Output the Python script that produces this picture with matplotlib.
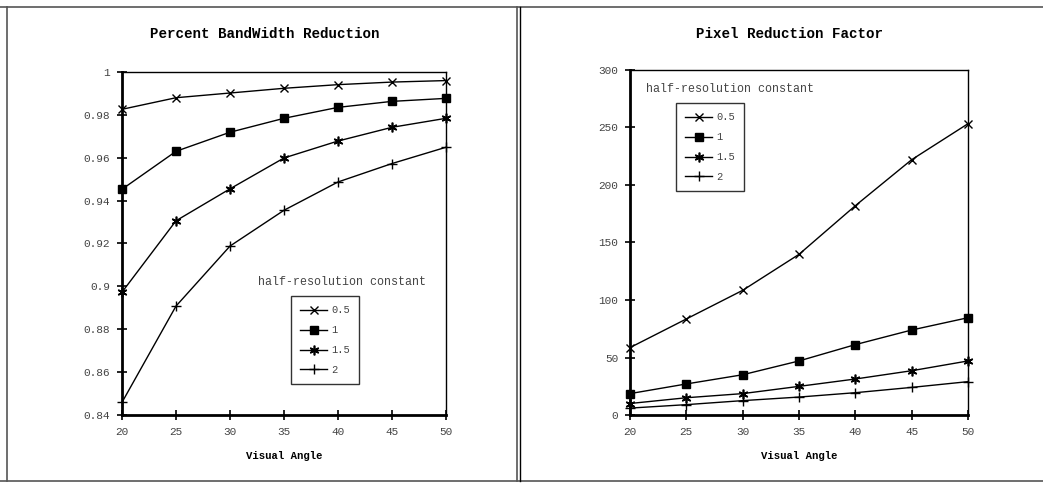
import matplotlib.pyplot as plt
from matplotlib.lines import Line2D

FIG_W, FIG_H = 1043, 483

visual_angle = [20, 25, 30, 35, 40, 45, 50]
series_labels = ["0.5", "1", "1.5", "2"]

bandwidth_reduction = {
    "0.5": [0.9826, 0.9880, 0.9902, 0.9924, 0.9941, 0.9953, 0.9960],
    "1": [0.9453, 0.9630, 0.9719, 0.9784, 0.9835, 0.9863, 0.9877],
    "1.5": [0.8973, 0.9306, 0.9455, 0.9599, 0.9678, 0.9742, 0.9784],
    "2": [0.8459, 0.8908, 0.9188, 0.9355, 0.9487, 0.9573, 0.9649],
}

pixel_reduction = {
    "0.5": [58.6, 83.5, 108.4, 139.7, 182.0, 222.0, 253.3],
    "1": [18.6, 27.0, 35.0, 47.0, 61.2, 73.9, 84.6],
    "1.5": [10.0, 15.0, 18.6, 24.9, 31.3, 38.5, 47.0],
    "2": [6.0, 9.0, 12.5, 15.6, 19.4, 24.0, 29.0],
}

bw_ticks = [0.84, 0.86, 0.88, 0.9, 0.92, 0.94, 0.96, 0.98, 1]
bw_tick_labels = ["0.84", "0.86", "0.88", "0.9", "0.92", "0.94", "0.96", "0.98", "1"]
px_ticks = [0, 50, 100, 150, 200, 250, 300]

MONO = "Liberation Mono"
markers = {
    "0.5": dict(marker="x", markersize=6, markeredgewidth=1.0),
    "1": dict(marker="s", markersize=5.5, markerfacecolor="black"),
    "1.5": dict(marker=(6, 2, 0), markersize=7, markeredgewidth=1.2),
    "2": dict(marker="+", markersize=7, markeredgewidth=1.0),
}


def fx(px):
    return px / FIG_W


def fy(py):
    return 1 - py / FIG_H


def axes_rect(x0, x1, ytop, ybot):
    return [fx(x0), fy(ybot), fx(x1) - fx(x0), fy(ytop) - fy(ybot)]


def style_axes(ax):
    for side in ["left", "bottom"]:
        ax.spines[side].set_linewidth(2.0)
    for side in ["top", "right"]:
        ax.spines[side].set_linewidth(1.0)
    ax.tick_params(direction="inout", length=7, width=1.2, labelsize=8,
                   labelcolor="#444444", pad=5)
    for lbl in ax.get_xticklabels() + ax.get_yticklabels():
        lbl.set_family(MONO)
    ax.set_xlabel("Visual Angle", fontfamily=MONO, fontweight="bold",
                  fontsize=7.7, labelpad=10)


def draw_series(ax, data):
    for name in series_labels:
        ax.plot(visual_angle, data[name], color="black", linewidth=1.0,
                label=name, clip_on=False, **markers[name])


def add_legend(ax, fig, left_px, top_px):
    leg = ax.legend(loc="upper left", bbox_to_anchor=(fx(left_px), fy(top_px)),
                    bbox_transform=fig.transFigure, frameon=True, fancybox=False,
                    edgecolor="black", borderaxespad=0, handlelength=2.6,
                    labelspacing=0.95, borderpad=0.9, handletextpad=0.35,
                    prop={"family": MONO, "size": 7.5})
    leg.get_frame().set_linewidth(1.0)
    for t in leg.get_texts():
        t.set_color("#444444")
    return leg


fig = plt.figure(figsize=(FIG_W / 100, FIG_H / 100), dpi=100)

# panel borders
border = dict(color="#555555", linewidth=1.2, transform=fig.transFigure)
fig.add_artist(Line2D([fx(0), fx(FIG_W)], [fy(7), fy(7)], **border))
fig.add_artist(Line2D([fx(0), fx(FIG_W)], [fy(481), fy(481)], **border))
fig.add_artist(Line2D([fx(7), fx(7)], [fy(7), fy(481)], **border))
fig.add_artist(Line2D([fx(517), fx(517)], [fy(7), fy(481)], **border))
fig.add_artist(Line2D([fx(520), fx(520)], [fy(7), fy(481)], color="black",
                      linewidth=1.0, transform=fig.transFigure))

# left chart
ax1 = fig.add_axes(axes_rect(122, 446, 72, 415))
draw_series(ax1, bandwidth_reduction)
ax1.set_xlim(20, 50)
ax1.set_ylim(0.84, 1)
ax1.set_xticks(visual_angle)
ax1.set_yticks(bw_ticks)
ax1.set_yticklabels(bw_tick_labels)
style_axes(ax1)
add_legend(ax1, fig, 291, 296)
fig.text(fx(265), fy(34), "Percent BandWidth Reduction", ha="center", va="center",
         fontfamily=MONO, fontweight="bold", fontsize=10.2)
fig.text(fx(342), fy(282), "half-resolution constant", ha="center", va="center",
         fontfamily=MONO, fontsize=8.4, color="#444444")

# right chart
ax2 = fig.add_axes(axes_rect(630, 968, 70, 415))
draw_series(ax2, pixel_reduction)
ax2.set_xlim(20, 50)
ax2.set_ylim(0, 300)
ax2.set_xticks(visual_angle)
ax2.set_yticks(px_ticks)
style_axes(ax2)
add_legend(ax2, fig, 676, 103)
fig.text(fx(789), fy(34), "Pixel Reduction Factor", ha="center", va="center",
         fontfamily=MONO, fontweight="bold", fontsize=10.2)
fig.text(fx(646), fy(89), "half-resolution constant", ha="left", va="center",
         fontfamily=MONO, fontsize=8.4, color="#444444")

fig.savefig("out.png", dpi=100)
plt.close(fig)
